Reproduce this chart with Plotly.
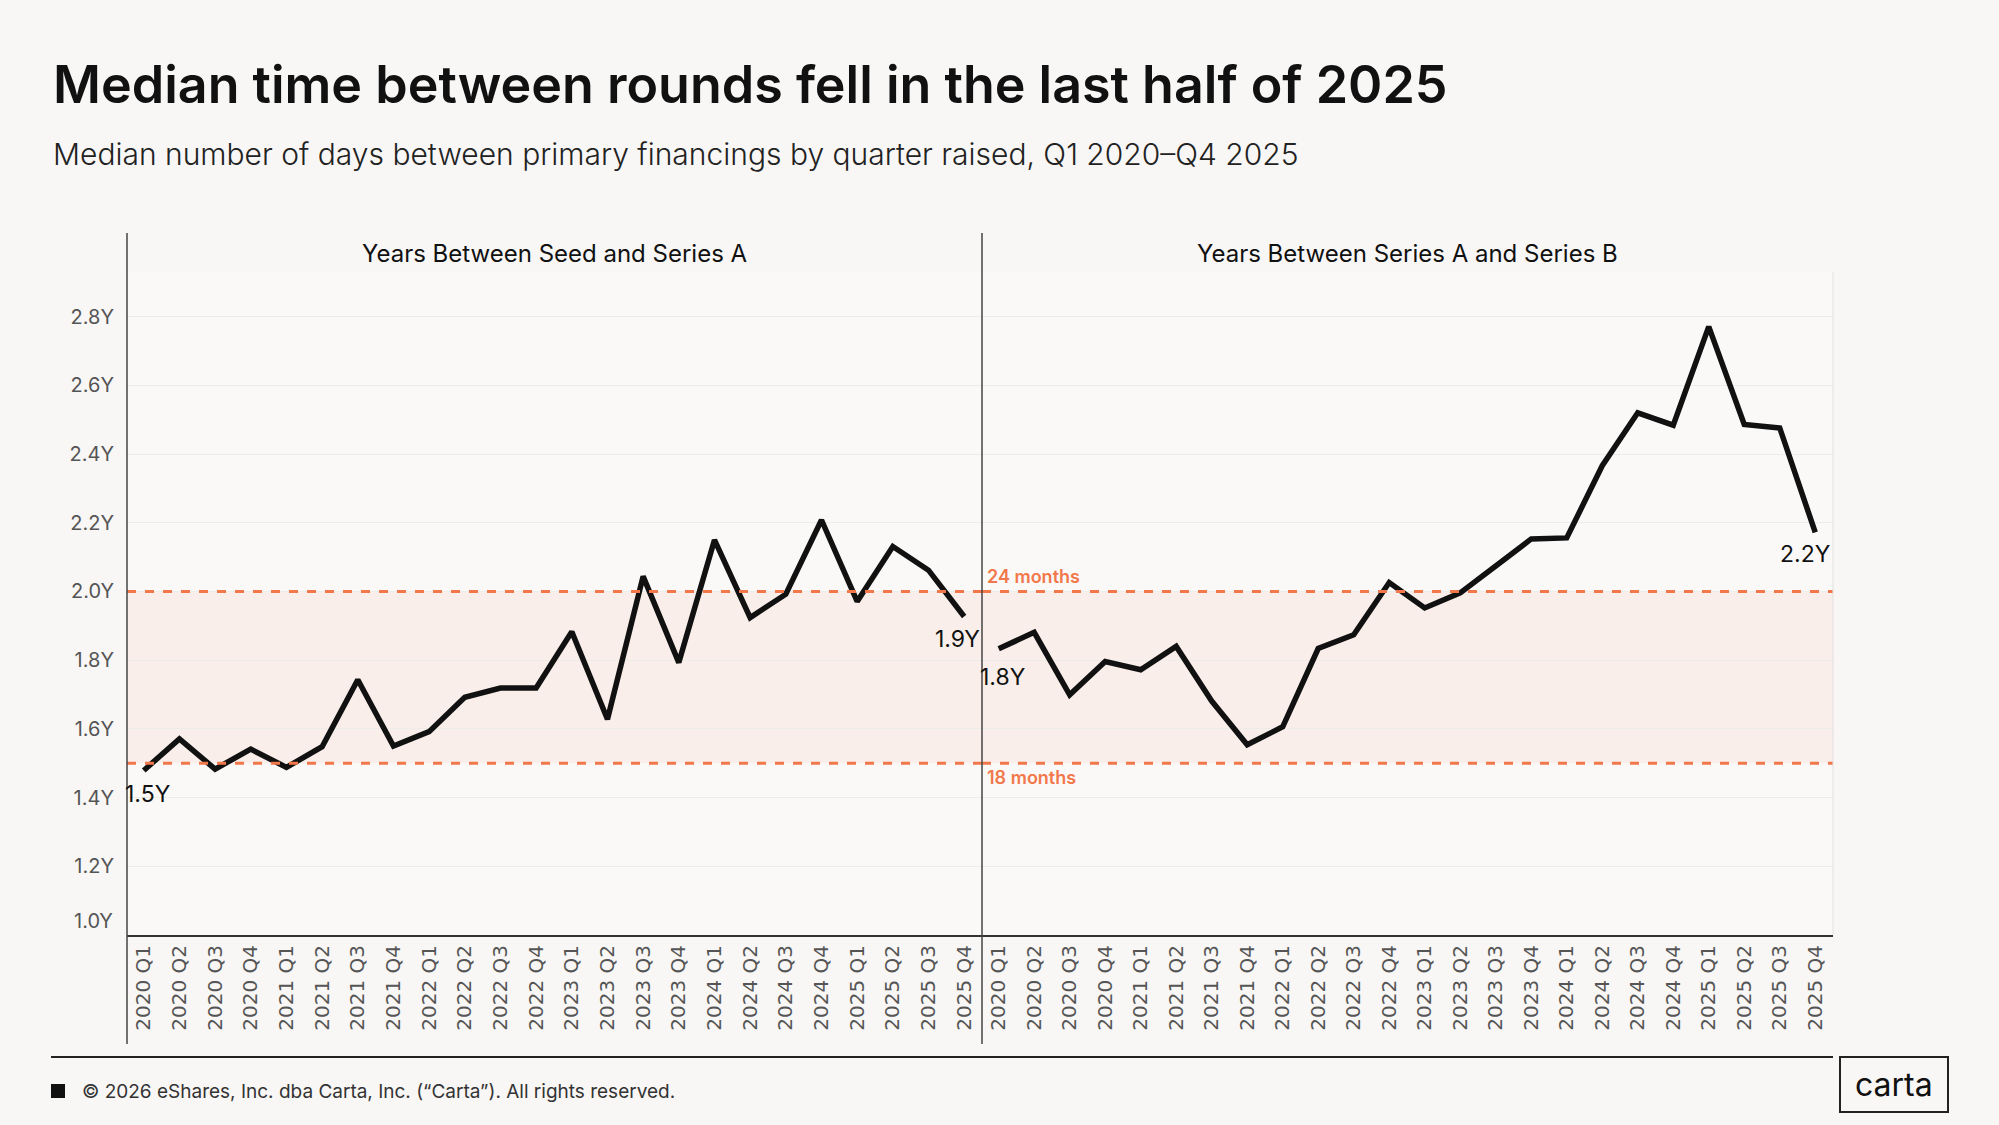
import plotly.graph_objects as go

# Quarters (shared by both panels)
quarters = [f"{y} Q{q}" for y in range(2020, 2026) for q in range(1, 5)]

# Median years between rounds
seed_to_a = [1.479, 1.571, 1.483, 1.541, 1.488, 1.548, 1.743, 1.550,
             1.592, 1.692, 1.719, 1.719, 1.883, 1.628, 2.044, 1.793,
             2.150, 1.924, 1.992, 2.208, 1.971, 2.131, 2.062, 1.927]
a_to_b = [1.833, 1.881, 1.699, 1.796, 1.772, 1.840, 1.681, 1.554,
          1.606, 1.834, 1.874, 2.026, 1.952, 1.996, 2.074, 2.153,
          2.156, 2.366, 2.520, 2.484, 2.771, 2.486, 2.476, 2.172]

ytick_vals = [1.2, 1.4, 1.6, 1.8, 2.0, 2.2, 2.4, 2.6, 2.8]
ytick_text = [f"{v:.1f}Y" for v in ytick_vals]

band_low, band_high = 1.5, 2.0

# page body has an 8px margin, so the figure is shrunk to fit the window
OFF = 8
W, H = 1999 - 2 * OFF, 1125 - 2 * OFF
BG = "#F8F7F5"
CORAL = "#F2784B"
GREY = "#555555"
FONT = "Inter"

def px(x):
    return (x - OFF) / W

def py(y):
    return 1 - (y - OFF) / H

fig = go.Figure()
fig.add_trace(go.Scatter(x=quarters, y=seed_to_a, mode="lines",
                         line=dict(color="#111111", width=5.5), xaxis="x", yaxis="y",
                         showlegend=False))
fig.add_trace(go.Scatter(x=quarters, y=a_to_b, mode="lines",
                         line=dict(color="#111111", width=5.5), xaxis="x2", yaxis="y2",
                         showlegend=False))

xcommon = dict(type="category", range=[-0.47, 23.5], tickangle=-90,
               tickfont=dict(family="DejaVu Sans", size=20, color=GREY),
               showgrid=False, showline=True, linecolor="#333333", linewidth=2,
               ticks="", fixedrange=True)
ycommon = dict(range=[1.0, 2.93], tickvals=ytick_vals, showgrid=True,
               gridcolor="#EEECE9", gridwidth=1, zeroline=False, showline=False)

fig.update_layout(
    width=W, height=H,
    margin=dict(l=0, r=0, t=0, b=0),
    paper_bgcolor=BG, plot_bgcolor="#FAF9F8",
    xaxis=dict(domain=[px(127), px(982)], anchor="y", **xcommon),
    xaxis2=dict(domain=[px(982), px(1833)], anchor="y2", **xcommon),
    yaxis=dict(domain=[py(935), py(272)], anchor="x", ticktext=ytick_text,
               tickfont=dict(family=FONT, size=20, color=GREY),
               ticklabelstandoff=12, **ycommon),
    yaxis2=dict(domain=[py(935), py(272)], anchor="x2", matches="y",
                showticklabels=False, **ycommon),
)

shapes = []
# shaded band and dashed reference lines in each panel
for xr, yr in [("x domain", "y"), ("x2 domain", "y2")]:
    shapes.append(dict(type="rect", xref=xr, yref=yr, x0=0, x1=1, y0=band_low, y1=band_high,
                       fillcolor="rgba(248,200,180,0.22)", line=dict(width=0), layer="below"))
    for v in (band_low, band_high):
        shapes.append(dict(type="line", xref=xr, yref=yr, x0=0, x1=1, y0=v, y1=v,
                           line=dict(color=CORAL, width=3, dash="dash")))
# panel dividers
for xv in (127, 982):
    shapes.append(dict(type="line", xref="paper", yref="paper", x0=px(xv), x1=px(xv),
                       y0=py(1044), y1=py(233), line=dict(color="#444444", width=1.5)))
shapes.append(dict(type="line", xref="paper", yref="paper", x0=px(1833), x1=px(1833),
                   y0=py(935), y1=py(272), line=dict(color="#E2E1DF", width=1)))
# footer
shapes.append(dict(type="line", xref="paper", yref="paper", x0=px(51), x1=px(1833),
                   y0=py(1057), y1=py(1057), line=dict(color="#222222", width=2)))
shapes.append(dict(type="rect", xref="paper", yref="paper", x0=px(51), x1=px(65),
                   y0=py(1098), y1=py(1084), fillcolor="#111111", line=dict(width=0)))
shapes.append(dict(type="rect", xref="paper", yref="paper", x0=px(1840), x1=px(1948),
                   y0=py(1112), y1=py(1057), line=dict(color="#222222", width=2)))
fig.update_layout(shapes=shapes)

ann = [
    dict(text="Median time between rounds fell in the last half of 2025", x=px(51), y=py(84),
         font=dict(family=FONT, size=52, color="#111111", weight=600)),
    dict(text="Median number of days between primary financings by quarter raised, Q1 2020–Q4 2025",
         x=px(51), y=py(154), font=dict(family=FONT, size=30, color="#222222", weight=300)),
    dict(text="© 2026 eShares, Inc. dba Carta, Inc. (“Carta”). All rights reserved.",
         x=px(80), y=py(1091), font=dict(family=FONT, size=19, color="#333333")),
]
for a in ann:
    a.update(xref="paper", yref="paper", xanchor="left", yanchor="middle", showarrow=False)
fig.add_annotation(text="carta", xref="paper", yref="paper", x=px(1894), y=py(1084),
                   xanchor="center", yanchor="middle", showarrow=False,
                   font=dict(family=FONT, size=32, color="#111111"))
for a in ann:
    fig.add_annotation(**a)

# facet titles
fig.add_annotation(text="Years Between Seed and Series A", xref="x domain", yref="paper",
                   x=0.5, y=py(254), xanchor="center", yanchor="middle", showarrow=False,
                   font=dict(family=FONT, size=24, color="#111111"))
fig.add_annotation(text="Years Between Series A and Series B", xref="x2 domain", yref="paper",
                   x=0.5, y=py(254), xanchor="center", yanchor="middle", showarrow=False,
                   font=dict(family=FONT, size=24, color="#111111"))

# 1.0Y label sits just above the axis line
fig.add_annotation(text="1.0Y", xref="paper", yref="y", x=px(115), y=1.0, xanchor="right",
                   yanchor="middle", yshift=14, showarrow=False,
                   font=dict(family=FONT, size=20, color=GREY))

# reference line labels
fig.add_annotation(text="24 months", xref="x2 domain", yref="y2", x=0, y=band_high,
                   xanchor="left", yanchor="bottom", xshift=3, yshift=2, showarrow=False,
                   font=dict(family=FONT, size=18, color=CORAL, weight=600))
fig.add_annotation(text="18 months", xref="x2 domain", yref="y2", x=0, y=band_low,
                   xanchor="left", yanchor="top", xshift=3, yshift=-2, showarrow=False,
                   font=dict(family=FONT, size=18, color=CORAL, weight=600))

# end-point labels
labels = [
    ("x", "y", quarters[0], seed_to_a[0], 4, -24),
    ("x", "y", quarters[-1], seed_to_a[-1], -7, -22),
    ("x2", "y2", quarters[0], a_to_b[0], 4, -28),
    ("x2", "y2", quarters[-1], a_to_b[-1], -10, -22),
]
for xr, yr, xv, yv, dx, dy in labels:
    fig.add_annotation(text=f"{yv:.1f}Y", xref=xr, yref=yr, x=xv, y=yv, xshift=dx, yshift=dy,
                       xanchor="center", yanchor="middle", showarrow=False,
                       font=dict(family=FONT, size=23, color="#111111"))

fig.write_html("out.html", post_script="document.body.style.backgroundColor='#F8F7F5';")
